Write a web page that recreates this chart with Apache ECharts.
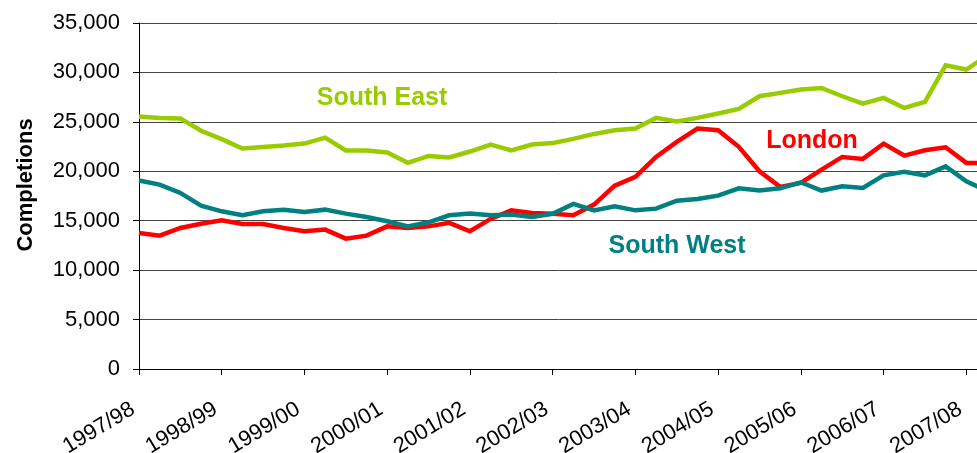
<!DOCTYPE html>
<html style="height: 100%">
<head>
    <meta charset="utf-8">
    <title>Completions by region</title>
    <script src="https://cdn.jsdelivr.net/npm/echarts@6/dist/echarts.min.js"></script>
</head>
<body style="height: 100%; margin: 0; background: #fff">
    <div id="main" style="width: 977px; height: 453px"></div>
    <script type="text/javascript">
        // financial years, 4 quarters each
        var years = ['1997/98', '1998/99', '1999/00', '2000/01', '2001/02', '2002/03',
                     '2003/04', '2004/05', '2005/06', '2006/07', '2007/08'];
        var quarters = ['Q1', 'Q2', 'Q3', 'Q4'];

        // quarterly completions
        var southEast = [25550, 25400, 25350, 24100, 23250, 22300, 22450, 22600, 22800, 23400,
                         22100, 22100, 21900, 20850, 21550, 21400, 22000, 22700, 22100, 22700,
                         22850, 23280, 23780, 24150, 24320, 25400, 25030, 25400, 25840, 26310,
                         27590, 27930, 28270, 28430, 27590, 26850, 27420, 26410, 27020, 30720,
                         30290, 31700];
        var london = [13760, 13490, 14270, 14700, 15040, 14670, 14670, 14270, 13930, 14100,
                      13190, 13490, 14430, 14270, 14430, 14780, 13930, 15180, 16050, 15790,
                      15700, 15550, 16630, 18550, 19430, 21450, 22970, 24320, 24150, 22470,
                      20000, 18420, 18820, 20170, 21450, 21250, 22800, 21590, 22130, 22430,
                      20850, 20850];
        var southWest = [19060, 18650, 17810, 16530, 15950, 15550, 15950, 16120, 15890, 16120,
                         15720, 15380, 14940, 14430, 14840, 15550, 15720, 15550, 15620, 15380,
                         15700, 16700, 16050, 16460, 16050, 16220, 17030, 17200, 17540, 18280,
                         18050, 18280, 18890, 18050, 18480, 18320, 19590, 19940, 19590, 20500,
                         18990, 18000];

        var categories = [];
        years.forEach(function (y) {
            quarters.forEach(function (q) { categories.push(y + ' ' + q); });
        });
        categories = categories.slice(0, southEast.length);

        var font = "'Liberation Sans', Arial, sans-serif";

        var myChart = echarts.init(document.getElementById('main'));

        function lineSeries(name, data, color) {
            return {
                name: name,
                type: 'line',
                data: data,
                showSymbol: false,
                symbol: 'none',
                lineStyle: { color: color, width: 4.5, join: 'miter' },
                itemStyle: { color: color }
            };
        }

        var option = {
            animation: false,
            backgroundColor: '#fff',
            // the last quarter runs just past the right edge, as in the original
            grid: { left: 139, top: 23, right: -10, bottom: 84, outerBoundsMode: 'none' },
            xAxis: {
                type: 'category',
                data: categories,
                boundaryGap: false,
                axisLine: { lineStyle: { color: '#000', width: 1 } },
                axisTick: { interval: 3, length: 6, lineStyle: { color: '#000' } },
                axisLabel: {
                    interval: 3,
                    rotate: 31,
                    margin: 35,
                    padding: [0, 7, 0, 0],
                    color: '#000',
                    fontFamily: font,
                    fontSize: 22,
                    formatter: function (v) { return v.split(' ')[0]; }
                },
                splitLine: { show: false }
            },
            yAxis: {
                type: 'value',
                min: 0,
                max: 35000,
                interval: 5000,
                axisLine: { show: true, lineStyle: { color: '#000', width: 1 } },
                axisTick: { show: true, length: 6, lineStyle: { color: '#000' } },
                axisLabel: {
                    margin: 19,
                    color: '#000',
                    fontFamily: font,
                    fontSize: 22,
                    formatter: function (v) { return v.toLocaleString('en-US'); }
                },
                splitLine: { lineStyle: { color: '#444', width: 1 } }
            },
            graphic: [
                {
                    type: 'text', x: 26, y: 185, rotation: Math.PI / 2,
                    style: { text: 'Completions', fill: '#000', font: 'bold 22px ' + font,
                             textAlign: 'center', textVerticalAlign: 'middle' }
                },
                {
                    type: 'text', x: 382, y: 98,
                    style: { text: 'South East', fill: '#99cc00', font: 'bold 25px ' + font,
                             textAlign: 'center', textVerticalAlign: 'middle' }
                },
                {
                    type: 'text', x: 812, y: 141,
                    style: { text: 'London', fill: '#ff0000', font: 'bold 25px ' + font,
                             textAlign: 'center', textVerticalAlign: 'middle' }
                },
                {
                    type: 'text', x: 677, y: 246,
                    style: { text: 'South West', fill: '#008080', font: 'bold 25px ' + font,
                             textAlign: 'center', textVerticalAlign: 'middle' }
                }
            ],
            series: [
                lineSeries('South East', southEast, '#99cc00'),
                lineSeries('London', london, '#ff0000'),
                lineSeries('South West', southWest, '#008080')
            ]
        };

        myChart.setOption(option);
    </script>
</body>
</html>
